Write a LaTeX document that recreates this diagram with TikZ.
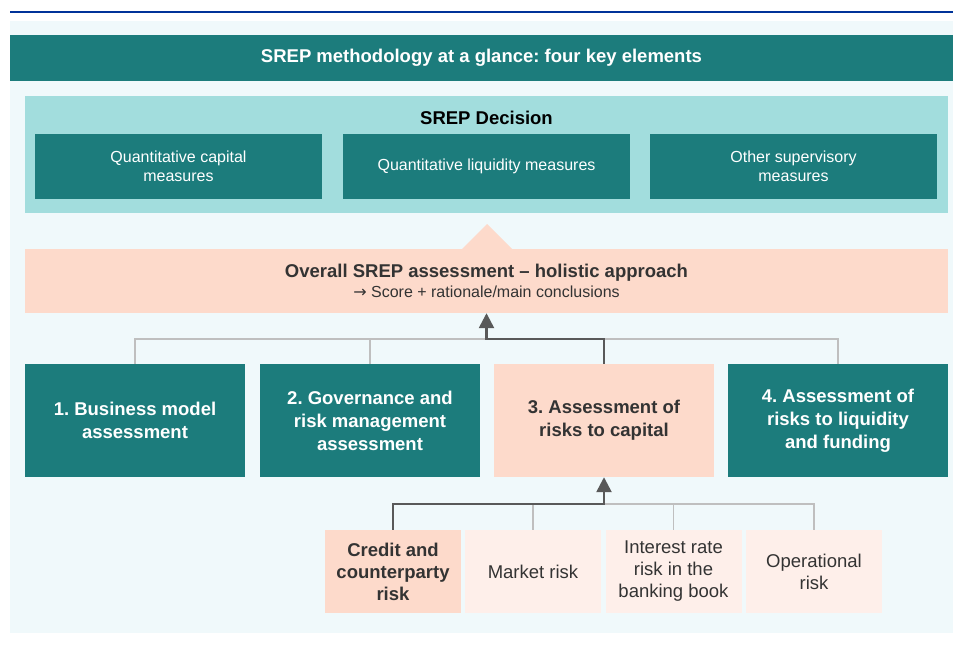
\documentclass[tikz,border=0pt]{standalone}
\usepackage{fontspec}
\setmainfont{Liberation Sans}
\newfontfamily\arrowfont{DejaVu Sans}
\frenchspacing
\usetikzlibrary{arrows.meta}

\definecolor{srepblue}{HTML}{003399}
\definecolor{panelbg}{HTML}{F0F9FB}
\definecolor{srepteal}{HTML}{1C7C7C}
\definecolor{lightteal}{HTML}{A2DDDD}
\definecolor{peach}{HTML}{FDDACB}
\definecolor{palepeach}{HTML}{FEEFEA}
\definecolor{linegray}{HTML}{BFBFBF}
\definecolor{arrowgray}{HTML}{595959}
\definecolor{textdark}{HTML}{333333}

\begin{document}
\begin{tikzpicture}[x=1pt, y=-1pt]
\useasboundingbox (0,0) rectangle (953,648);
\fill[white] (0,0) rectangle (953,648);
\draw[srepblue, line width=2pt] (10,12) -- (953,12);
\fill[panelbg] (10,21) rectangle (953,633);

% title bar and decision panel
\node[fill=srepteal, text=white, minimum width=943pt, minimum height=46pt, inner sep=0pt,
      font=\bfseries\fontsize{18.5}{22}\selectfont] (title) at (481.5,58) {SREP methodology at a glance: four key elements};
\node[fill=lightteal, minimum width=923pt, minimum height=117pt, inner sep=0pt] (decision) at (486.5,154.5) {};
\node[font=\bfseries\fontsize{18.5}{22}\selectfont] (dectitle) at (486.5,118) {SREP Decision};

\begin{scope}[every node/.style={rectangle, fill=srepteal, text=white, inner sep=0pt, align=center,
              minimum width=287pt, minimum height=65pt, font=\fontsize{16}{19}\selectfont}]
    \node (capital) at (178.5,166.5) {Quantitative capital\\measures};
    \node (liquidity) at (486.5,166.5) {Quantitative liquidity measures};
    \node (other) at (793.5,166.5) {Other supervisory\\measures};
\end{scope}

% overall assessment
\fill[peach] (462,249) -- (487,224) -- (512,249) -- cycle;
\node[fill=peach, text=textdark, minimum width=923pt, minimum height=64pt, inner sep=0pt, align=center,
      font=\fontsize{16}{20}\selectfont] (overall) at (486.5,281)
    {{\bfseries\fontsize{18.5}{22}\selectfont Overall SREP assessment – holistic approach}\\{\arrowfont →} Score + rationale/main conclusions};

% four key elements
\begin{scope}[every node/.style={rectangle, fill=srepteal, text=white, inner sep=0pt, align=center,
              minimum width=220pt, minimum height=113pt, font=\bfseries\fontsize{18.5}{23}\selectfont}]
    \node (bma) at (135,420.5) {1. Business model\\assessment};
    \node (gov) at (370,420.5) {2. Governance and\\risk management\\assessment};
    \node[fill=peach, text=textdark] (caprisk) at (604,420.5) {3. Assessment of\\risks to capital};
    \node (liqrisk) at (838,420.5) {4. Assessment of\\risks to liquidity\\and funding};
\end{scope}

% risks to capital
\begin{scope}[every node/.style={rectangle, fill=palepeach, text=textdark, inner sep=0pt, align=center,
              minimum width=136pt, minimum height=83pt, font=\fontsize{18.5}{22}\selectfont}]
    \node[fill=peach, font=\bfseries\fontsize{18.5}{22}\selectfont] (credit) at (393,571.5) {Credit and\\counterparty\\risk};
    \node (market) at (533,571.5) {Market risk};
    \node (irrbb) at (673.5,571.5) {Interest rate\\risk in the\\banking book};
    \node (oprisk) at (814,571.5) {Operational\\risk};
\end{scope}

\coordinate (topbus) at (487,339);
\coordinate (lowbus) at (604,504);

\begin{scope}[linegray, line width=1.5pt]
    \draw (bma.north) |- (topbus) -| (liqrisk.north);
    \draw (gov.north) -- (gov.north |- topbus);
    \draw (lowbus) -| (oprisk.north);
    \draw (market.north) -- (market.north |- lowbus);
    \draw (irrbb.north) -- (irrbb.north |- lowbus);
\end{scope}

\begin{scope}[arrowgray, line width=2.5pt, >={Triangle[width=15pt, length=15pt]}]
    \draw[->] (caprisk.north) |- (overall.south |- topbus) -- (overall.south);
    \draw[->] (credit.north) |- (lowbus) -- (caprisk.south);
\end{scope}
\end{tikzpicture}
\end{document}
